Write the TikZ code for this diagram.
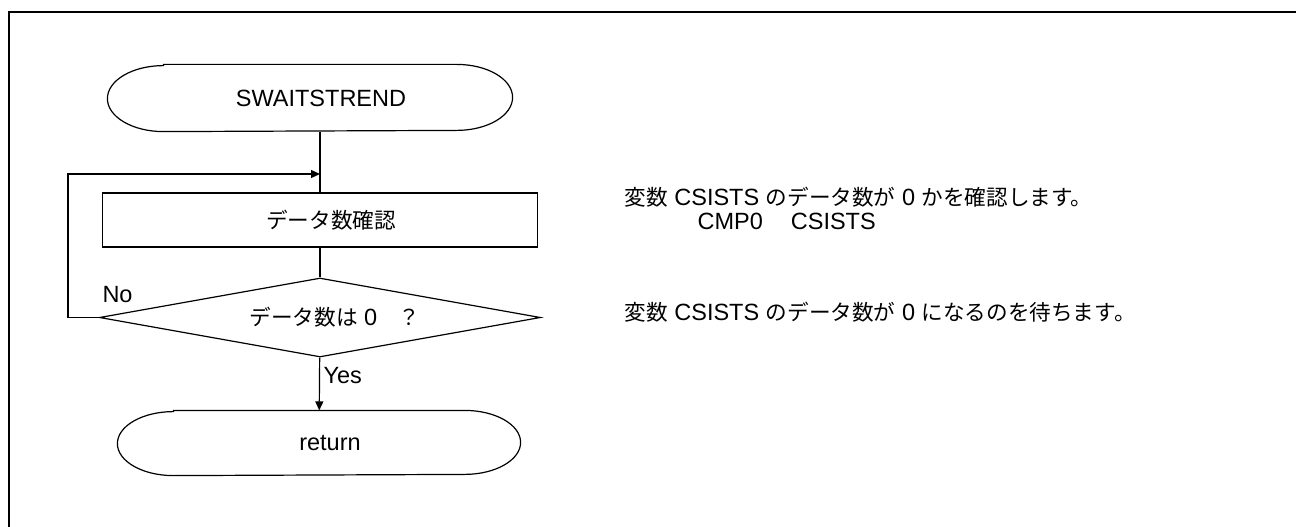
\documentclass[tikz,border=0pt]{standalone}
\usepackage{fontspec}
\setmainfont{Liberation Sans}
\newfontfamily\jp[Scale=0.92]{Noto Sans CJK JP}
\usetikzlibrary{arrows.meta,calc,shapes.geometric}
\newcommand{\termPath}[3]{%
  \draw ([xshift=#2]#1.north west) -- ([xshift=-#2]#1.north east)
    arc[start angle=90,end angle=-90,x radius=#2,y radius=#3]
    -- ([xshift=#2]#1.south west)
    arc[start angle=270,end angle=90,x radius=#2,y radius=#3] -- cycle;}

\begin{document}
\begin{tikzpicture}[x=1pt,y=1pt,line width=1.2pt,
  font=\fontsize{23.5pt}{28pt}\selectfont,
  term/.style={minimum width=404pt,minimum height=66pt,inner sep=0pt},
  proc/.style={draw,minimum width=435pt,minimum height=54pt,inner sep=0pt},
  dec/.style={draw,diamond,aspect=5.6,minimum width=441pt,minimum height=79pt,inner sep=0pt},
  note/.style={anchor=west,inner sep=0pt},
  arr/.style={-{Triangle[length=9pt,width=8pt]}}]
\useasboundingbox (0,0) rectangle (1296,-527);
\draw[line width=2pt] (9,-527) -- (9,-12) -- (1296,-12);

\node[term] (start) at (310,-98) {};
\termPath{start}{56pt}{33pt}
\node (title) at (321,-98) {SWAITSTREND};
\node[proc] (chk) at (320,-220) {\hspace*{22pt}\jp データ数確認};
\node[dec] (wait) at (320,-317.5) {\hspace*{30pt}{\jp データ数は} 0{\jp 　？}};
\node[term,minimum width=402pt,minimum height=64pt] (ret) at (319,-443) {\hspace*{22pt}return};
\termPath{ret}{56pt}{32pt}

\coordinate (loop) at (68,-174);
\coordinate (back) at (320,-174);

\draw (start.south -| chk) -- (chk);
\draw (chk) -- (wait);
\draw[arr] (wait.west) -- (wait.west -| loop) -- (loop) -- (back);
\draw[arr] (wait) -- (ret);

\node[anchor=west,inner sep=0pt] (no) at ([xshift=3pt,yshift=23pt]wait.west) {No};
\node[anchor=west,inner sep=0pt] (yes) at ([xshift=3pt,yshift=-18pt]wait.south) {Yes};

\node[note] (n1) at (624,-197) {{\jp 変数} CSISTS {\jp のデータ数が} 0 {\jp かを確認します。}};
\node[note] (n2) at (697,-221) {CMP0\hspace{28pt}CSISTS};
\node[note] (n3) at (624,-312) {{\jp 変数} CSISTS {\jp のデータ数が} 0 {\jp になるのを待ちます。}};
\end{tikzpicture}
\end{document}
